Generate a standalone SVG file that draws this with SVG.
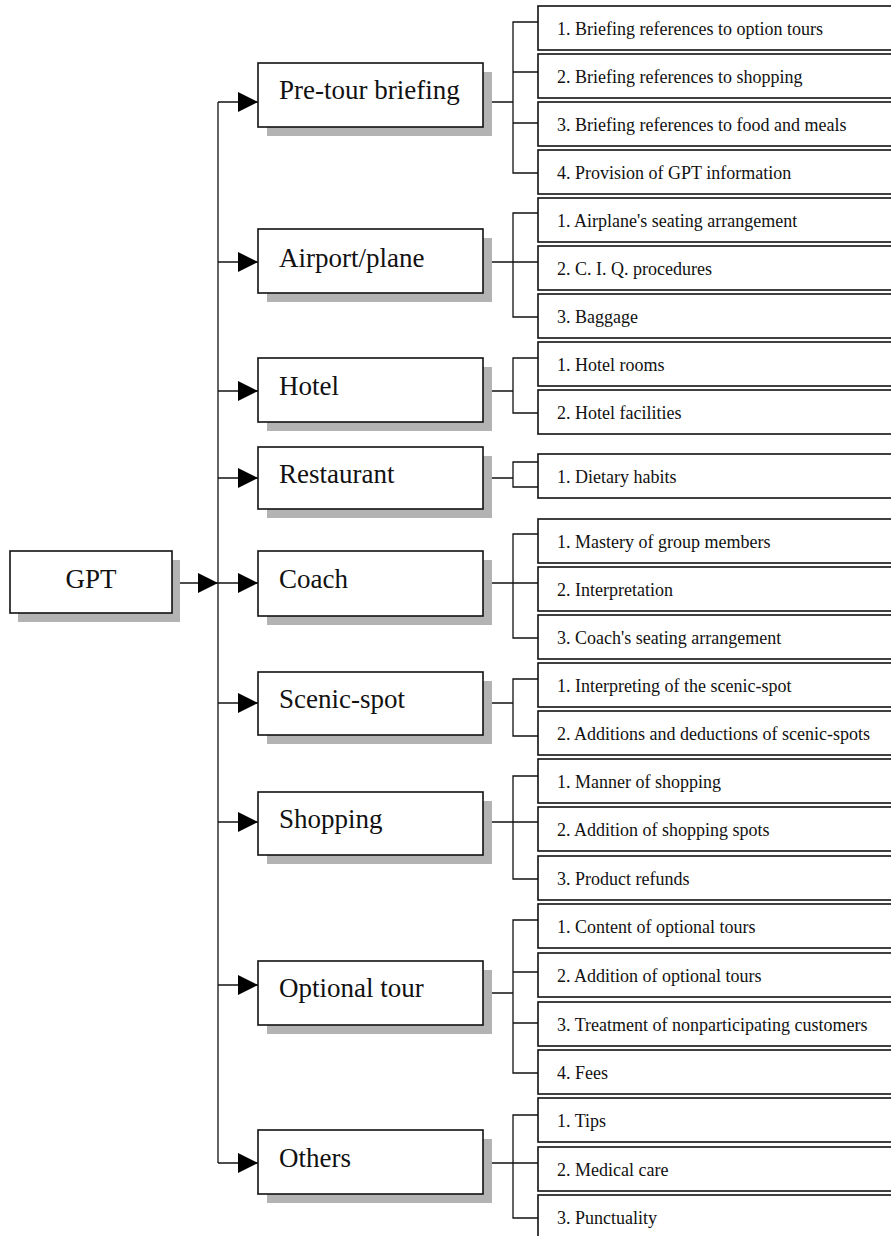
<svg xmlns="http://www.w3.org/2000/svg" width="891" height="1236" viewBox="0 0 891 1236">
<defs>
<marker id="arr" markerUnits="userSpaceOnUse" markerWidth="20" markerHeight="20" refX="20" refY="10" orient="auto">
<path d="M0,0 L20,10 L0,20 z" fill="#000"/>
</marker>
</defs>
<style>
.box{fill:#fff;stroke:#111;stroke-width:1.6}
.shadow{fill:#b3b3b3}
.leaf{fill:#fff;stroke:#111;stroke-width:1.6}
.cat{font-family:"Liberation Serif","Times New Roman",serif;font-size:27px;fill:#111}
.lt{font-family:"Liberation Serif","Times New Roman",serif;font-size:18px;fill:#111}
.con{fill:none;stroke:#111;stroke-width:1.3}
</style>
<rect width="891" height="1236" fill="#fff"/>

<g id="connectors">
<path class="con" d="M218,102 V1163"/>
<path class="con" d="M172,583 H218" marker-end="url(#arr)"/>
<path class="con" d="M218,102 H258" marker-end="url(#arr)"/>
<path class="con" d="M218,262 H258" marker-end="url(#arr)"/>
<path class="con" d="M218,391 H258" marker-end="url(#arr)"/>
<path class="con" d="M218,478 H258" marker-end="url(#arr)"/>
<path class="con" d="M218,583 H258" marker-end="url(#arr)"/>
<path class="con" d="M218,703 H258" marker-end="url(#arr)"/>
<path class="con" d="M218,822 H258" marker-end="url(#arr)"/>
<path class="con" d="M218,985 H258" marker-end="url(#arr)"/>
<path class="con" d="M218,1163 H258" marker-end="url(#arr)"/>
<path class="con" d="M483,102 H513 M538,22 H513 V173 H538 M513,72 H538 M513,123 H538"/>
<path class="con" d="M483,262 H538 M538,213 H513 V317 H538"/>
<path class="con" d="M483,391 H513 M538,358 H513 V413 H538"/>
<path class="con" d="M483,478 H513 M538,462 H513 V487 H538"/>
<path class="con" d="M483,583 H538 M538,534 H513 V638 H538"/>
<path class="con" d="M483,703 H513 M538,679 H513 V736 H538"/>
<path class="con" d="M483,822 H538 M538,776 H513 V879 H538"/>
<path class="con" d="M483,993 H513 M538,920 H513 V1073 H538 M513,972 H538 M513,1023 H538"/>
<path class="con" d="M483,1163 H538 M538,1115 H513 V1218 H538"/>
</g>

<g id="gpt">
<rect class="shadow" x="18" y="560" width="162" height="62"/>
<rect class="box" x="10" y="551" width="162" height="62"/>
<text class="cat" x="91" y="588" text-anchor="middle">GPT</text>
</g>

<g id="pretour">
<rect class="shadow" x="267" y="72" width="225" height="64"/>
<rect class="box" x="258" y="63" width="225" height="64"/>
<text class="cat" x="279" y="99">Pre-tour briefing</text>
</g>
<g id="airport">
<rect class="shadow" x="267" y="238" width="225" height="64"/>
<rect class="box" x="258" y="229" width="225" height="64"/>
<text class="cat" x="279" y="267">Airport/plane</text>
</g>
<g id="hotel">
<rect class="shadow" x="267" y="367" width="225" height="64"/>
<rect class="box" x="258" y="358" width="225" height="64"/>
<text class="cat" x="279" y="395">Hotel</text>
</g>
<g id="restaurant">
<rect class="shadow" x="267" y="456" width="225" height="62"/>
<rect class="box" x="258" y="447" width="225" height="62"/>
<text class="cat" x="279" y="483">Restaurant</text>
</g>
<g id="coach">
<rect class="shadow" x="267" y="560" width="225" height="65"/>
<rect class="box" x="258" y="551" width="225" height="65"/>
<text class="cat" x="279" y="588">Coach</text>
</g>
<g id="scenic">
<rect class="shadow" x="267" y="681" width="225" height="63"/>
<rect class="box" x="258" y="672" width="225" height="63"/>
<text class="cat" x="279" y="708">Scenic-spot</text>
</g>
<g id="shopping">
<rect class="shadow" x="267" y="801" width="225" height="63"/>
<rect class="box" x="258" y="792" width="225" height="63"/>
<text class="cat" x="279" y="828">Shopping</text>
</g>
<g id="optional">
<rect class="shadow" x="267" y="970" width="225" height="64"/>
<rect class="box" x="258" y="961" width="225" height="64"/>
<text class="cat" x="279" y="997">Optional tour</text>
</g>
<g id="others">
<rect class="shadow" x="267" y="1139" width="225" height="64"/>
<rect class="box" x="258" y="1130" width="225" height="64"/>
<text class="cat" x="279" y="1167">Others</text>
</g>

<g id="leaf-pretour-1"><rect class="leaf" x="538" y="6" width="360" height="44"/><text class="lt" x="557" y="35">1. Briefing references to option tours</text></g>
<g id="leaf-pretour-2"><rect class="leaf" x="538" y="54" width="360" height="44"/><text class="lt" x="557" y="83">2. Briefing references to shopping</text></g>
<g id="leaf-pretour-3"><rect class="leaf" x="538" y="102" width="360" height="44"/><text class="lt" x="557" y="131">3. Briefing references to food and meals</text></g>
<g id="leaf-pretour-4"><rect class="leaf" x="538" y="150" width="360" height="44"/><text class="lt" x="557" y="179">4. Provision of GPT information</text></g>

<g id="leaf-airport-1"><rect class="leaf" x="538" y="198" width="360" height="44"/><text class="lt" x="557" y="227">1. Airplane's seating arrangement</text></g>
<g id="leaf-airport-2"><rect class="leaf" x="538" y="246" width="360" height="44"/><text class="lt" x="557" y="275">2. C. I. Q. procedures</text></g>
<g id="leaf-airport-3"><rect class="leaf" x="538" y="294" width="360" height="44"/><text class="lt" x="557" y="323">3. Baggage</text></g>

<g id="leaf-hotel-1"><rect class="leaf" x="538" y="342" width="360" height="44"/><text class="lt" x="557" y="371">1. Hotel rooms</text></g>
<g id="leaf-hotel-2"><rect class="leaf" x="538" y="390" width="360" height="44"/><text class="lt" x="557" y="419">2. Hotel facilities</text></g>

<g id="leaf-restaurant-1"><rect class="leaf" x="538" y="454" width="360" height="44"/><text class="lt" x="557" y="483">1. Dietary habits</text></g>

<g id="leaf-coach-1"><rect class="leaf" x="538" y="519" width="360" height="44"/><text class="lt" x="557" y="548">1. Mastery of group members</text></g>
<g id="leaf-coach-2"><rect class="leaf" x="538" y="567" width="360" height="44"/><text class="lt" x="557" y="596">2. Interpretation</text></g>
<g id="leaf-coach-3"><rect class="leaf" x="538" y="615" width="360" height="44"/><text class="lt" x="557" y="644">3. Coach's seating arrangement</text></g>

<g id="leaf-scenic-1"><rect class="leaf" x="538" y="663" width="360" height="44"/><text class="lt" x="557" y="692">1. Interpreting of the scenic-spot</text></g>
<g id="leaf-scenic-2"><rect class="leaf" x="538" y="711" width="360" height="44"/><text class="lt" x="557" y="740">2. Additions and deductions of scenic-spots</text></g>

<g id="leaf-shopping-1"><rect class="leaf" x="538" y="759" width="360" height="44"/><text class="lt" x="557" y="788">1. Manner of shopping</text></g>
<g id="leaf-shopping-2"><rect class="leaf" x="538" y="807" width="360" height="44"/><text class="lt" x="557" y="836">2. Addition of shopping spots</text></g>
<g id="leaf-shopping-3"><rect class="leaf" x="538" y="856" width="360" height="44"/><text class="lt" x="557" y="885">3. Product refunds</text></g>

<g id="leaf-optional-1"><rect class="leaf" x="538" y="904" width="360" height="44"/><text class="lt" x="557" y="933">1. Content of optional tours</text></g>
<g id="leaf-optional-2"><rect class="leaf" x="538" y="953" width="360" height="44"/><text class="lt" x="557" y="982">2. Addition of optional tours</text></g>
<g id="leaf-optional-3"><rect class="leaf" x="538" y="1002" width="360" height="44"/><text class="lt" x="557" y="1031">3. Treatment of nonparticipating customers</text></g>
<g id="leaf-optional-4"><rect class="leaf" x="538" y="1050" width="360" height="44"/><text class="lt" x="557" y="1079">4. Fees</text></g>

<g id="leaf-others-1"><rect class="leaf" x="538" y="1098" width="360" height="44"/><text class="lt" x="557" y="1127">1. Tips</text></g>
<g id="leaf-others-2"><rect class="leaf" x="538" y="1147" width="360" height="44"/><text class="lt" x="557" y="1176">2. Medical care</text></g>
<g id="leaf-others-3"><rect class="leaf" x="538" y="1195" width="360" height="50"/><text class="lt" x="557" y="1224">3. Punctuality</text></g>
</svg>
